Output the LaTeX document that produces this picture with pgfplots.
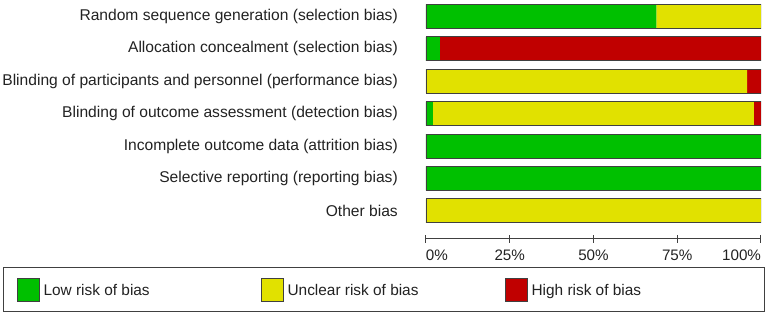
\documentclass[border=0pt]{standalone}
\usepackage{pgfplots}
\pgfplotsset{compat=1.18}
\usepackage{fontspec}
\setmainfont{Liberation Sans}
\definecolor{lowg}{HTML}{00C000}
\definecolor{uncy}{HTML}{E1E100}
\definecolor{highr}{HTML}{C00000}
\definecolor{edge}{HTML}{404040}
\definecolor{txt}{HTML}{222222}
\begin{document}
\begin{tikzpicture}
\fontsize{15.6}{18}\selectfont
\begin{axis}[
  width=335pt, height=238.5pt, scale only axis,
  xmin=0, xmax=100, ymin=-0.857, ymax=6.5,
  xbar stacked, bar width=24pt,
  clip=false,
  axis x line=bottom, axis y line=left,
  x axis line style={-, draw=edge, line width=1pt},
  y axis line style={draw=none},
  xtick align=center,
  major tick length=8pt,
  xtick={0,25,50,75,100},
  xticklabels={\makebox[0pt][l]{0\%},25\%,50\%,75\%,\makebox[0pt][r]{100\%}},
  xtick style={draw=edge, line width=1pt},
  xticklabel style={text=txt, font=\fontsize{15.2}{18}\selectfont, yshift=-2pt},
  ytick={0,1,2,3,4,5,6},
  ytick style={draw=none},
  yticklabels={Other bias, Selective reporting (reporting bias), Incomplete outcome data (attrition bias), Blinding of outcome assessment (detection bias), Blinding of participants and personnel (performance bias), Allocation concealment (selection bias), Random sequence generation (selection bias)},
  yticklabel style={text=txt, font=\fontsize{15.6}{18}\selectfont, inner xsep=0pt, xshift=-24pt},
  legend columns=3,
  legend style={at={(axis description cs:0,0)}, anchor=north west, xshift=-423pt, yshift=-28.5pt,
    draw=edge, line width=1.2pt, inner xsep=13pt, inner ysep=10pt,
    font=\fontsize{15.4}{18}\selectfont, text=txt,
    nodes={inner sep=0pt, anchor=base west},
    /tikz/every odd column/.append style={column sep=4pt},
    /tikz/every even column/.append style={column sep=0pt}},
]
\addplot[fill=lowg, draw=none, legend image code/.code={\draw[fill=lowg, draw=edge, line width=1pt] (0pt,-6pt) rectangle (22pt,17pt);}]
  coordinates {(0,0) (100,1) (100,2) (2.08,3) (0,4) (4.17,5) (68.75,6)};
\addlegendentry{\makebox[217pt][l]{Low risk of bias}}
\addplot[fill=uncy, draw=none, legend image code/.code={\draw[fill=uncy, draw=edge, line width=1pt] (0pt,-6pt) rectangle (22pt,17pt);}]
  coordinates {(100,0) (0,1) (0,2) (95.83,3) (95.83,4) (0,5) (31.25,6)};
\addlegendentry{\makebox[217pt][l]{Unclear risk of bias}}
\addplot[fill=highr, draw=none, legend image code/.code={\draw[fill=highr, draw=edge, line width=1pt] (0pt,-6pt) rectangle (22pt,17pt);}]
  coordinates {(0,0) (0,1) (0,2) (2.09,3) (4.17,4) (95.83,5) (0,6)};
\addlegendentry{\makebox[220pt][l]{High risk of bias}}
\path (rel axis cs:-1.27164,-0.3166) rectangle (rel axis cs:1.01791,1.0008);
\end{axis}
\begin{axis}[
  width=335pt, height=238.5pt, scale only axis,
  xmin=0, xmax=100, ymin=-0.857, ymax=6.5,
  hide axis, xbar, bar width=24pt,
]
\addplot[fill=none, draw=edge, line width=1pt]
  coordinates {(100,0) (100,1) (100,2) (100,3) (100,4) (100,5) (100,6)};
\end{axis}
\end{tikzpicture}
\end{document}
